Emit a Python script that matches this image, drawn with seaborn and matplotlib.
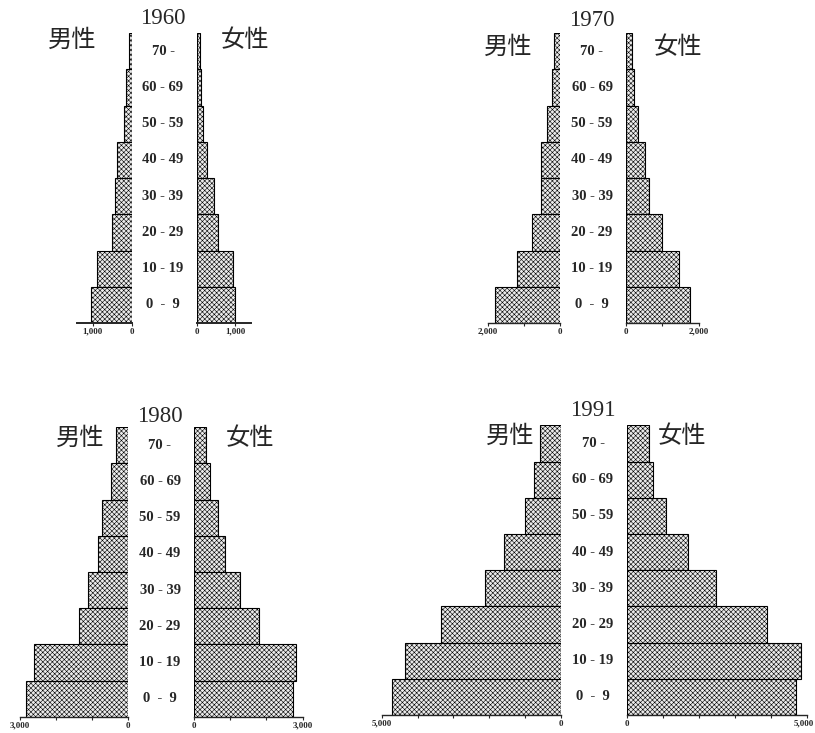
import matplotlib
matplotlib.use('Agg')
import matplotlib.pyplot as plt
import matplotlib.transforms as mtransforms
import seaborn as sns

sns.set_style('white')
plt.rcParams['font.family'] = ['Liberation Serif', 'Noto Sans CJK JP', 'DejaVu Sans']
plt.rcParams['hatch.linewidth'] = 0.4
plt.rcParams['hatch.color'] = '#6a6a6a'

# age groups, top to bottom
ages = ['70 -', '60 - 69', '50 - 59', '40 - 49', '30 - 39', '20 - 29', '10 - 19', '0  -  9']
years = ['1960', '1970', '1980', '1991']

# values
male_1960 = [77, 147, 206, 370, 429, 499, 892, 1054]
female_1960 = [93, 111, 162, 272, 452, 555, 925, 985]
male_1970 = [174, 221, 359, 540, 533, 782, 1196, 1815]
female_1970 = [183, 229, 339, 523, 642, 1008, 1450, 1771]
male_1980 = [333, 464, 714, 825, 1094, 1344, 2603, 2825]
female_1980 = [345, 448, 660, 843, 1257, 1782, 2804, 2721]
male_1991 = [578, 746, 986, 1583, 2104, 3352, 4358, 4712]
female_1991 = [626, 737, 1080, 1698, 2474, 3878, 4820, 4690]

# axis range and tick labels per panel
xmax = [1400, 2000, 3000, 5000]
ticks = [[0, 1000], [0, 1000, 2000], [0, 1000, 2000, 3000], [0, 1000, 2000, 3000, 4000, 5000]]
tick_labels = [['0', '1,000'], ['0', '', '2,000'], ['0', '', '', '3,000'],
               ['0', '', '', '', '', '5,000']]

male = [male_1960, male_1970, male_1980, male_1991]
female = [female_1960, female_1970, female_1980, female_1991]

W, H = 815, 733
fig = plt.figure(figsize=(W / 100, H / 100), dpi=100)

# layout in pixels: male x0,x1 / female x0,x1 / y top,bottom / label x / title y / sex label y
layout = [
    dict(m=(77.3, 131.7), f=(196.7, 251), y=(33, 323), cx=163, ty=18, sy=40, mx=72, fx=245),
    dict(m=(488, 560), f=(625.7, 698.7), y=(33, 323), cx=592, ty=20, sy=47, mx=508, fx=678),
    dict(m=(19.7, 127.7), f=(194, 302.6), y=(427.3, 716.7), cx=160, ty=416, sy=438, mx=80, fx=250),
    dict(m=(381.7, 560.7), f=(626.7, 807.3), y=(425.3, 715), cx=593, ty=411, sy=436, mx=510, fx=682),
]


def px_axes(x0, x1, y0, y1):
    return fig.add_axes([x0 / W, 1 - y1 / H, (x1 - x0) / W, (y1 - y0) / H])


def style_axes(ax, i, flip):
    sns.barplot(x=male[i] if flip else female[i], y=ages, orient='h', ax=ax,
                color='#ebebeb', edgecolor='black', linewidth=0.8, width=1.0, saturation=1)
    for p in ax.patches:
        p.set_hatch('xxxxxxx')
    ax.set_ylim(7.5, -0.5)
    if flip:
        ax.set_xlim(xmax[i], 0)
    else:
        ax.set_xlim(0, xmax[i])
    for s in ['top', 'left', 'right']:
        ax.spines[s].set_visible(False)
    ax.spines['bottom'].set_linewidth(1.4 if i == 0 else 1.0)
    ax.set_yticks([])
    ax.set_xticks(ticks[i])
    ax.set_xticklabels(tick_labels[i], fontsize=6.5, fontweight='bold')
    ax.tick_params(axis='x', direction='out', length=2.5, width=0.8, pad=1, bottom=True)
    ax.set_xlabel('')
    ax.set_ylabel('')
    ax.patch.set_alpha(0)
    return ax


for i, lay in enumerate(layout):
    ax_m = px_axes(lay['m'][0], lay['m'][1], lay['y'][0], lay['y'][1])
    ax_f = px_axes(lay['f'][0], lay['f'][1], lay['y'][0], lay['y'][1])
    style_axes(ax_m, i, True)
    style_axes(ax_f, i, False)
    # last label of the widest panel sits left of its tick, as in the scan
    if i == 3:
        lab = ax_f.get_xticklabels()[-1]
        lab.set_horizontalalignment('right')
        lab.set_transform(lab.get_transform() + mtransforms.ScaledTranslation(7 / 100, 0, fig.dpi_scale_trans))

    trans = mtransforms.blended_transform_factory(fig.transFigure, ax_m.transData)
    for k, a in enumerate(ages):
        fig.text(lay['cx'] / W, k, a, transform=trans, ha='center', va='center',
                 fontsize=10.5, fontweight='bold')

    fig.text(lay['cx'] / W, 1 - lay['ty'] / H, years[i], ha='center', va='center', fontsize=16.5)
    fig.text(lay['mx'] / W, 1 - lay['sy'] / H, '男性', ha='center', va='center', fontsize=17.5,
             family=['Noto Sans CJK JP'])
    fig.text(lay['fx'] / W, 1 - lay['sy'] / H, '女性', ha='center', va='center', fontsize=17.5,
             family=['Noto Sans CJK JP'])

fig.savefig('out.png', dpi=100, facecolor='white')
